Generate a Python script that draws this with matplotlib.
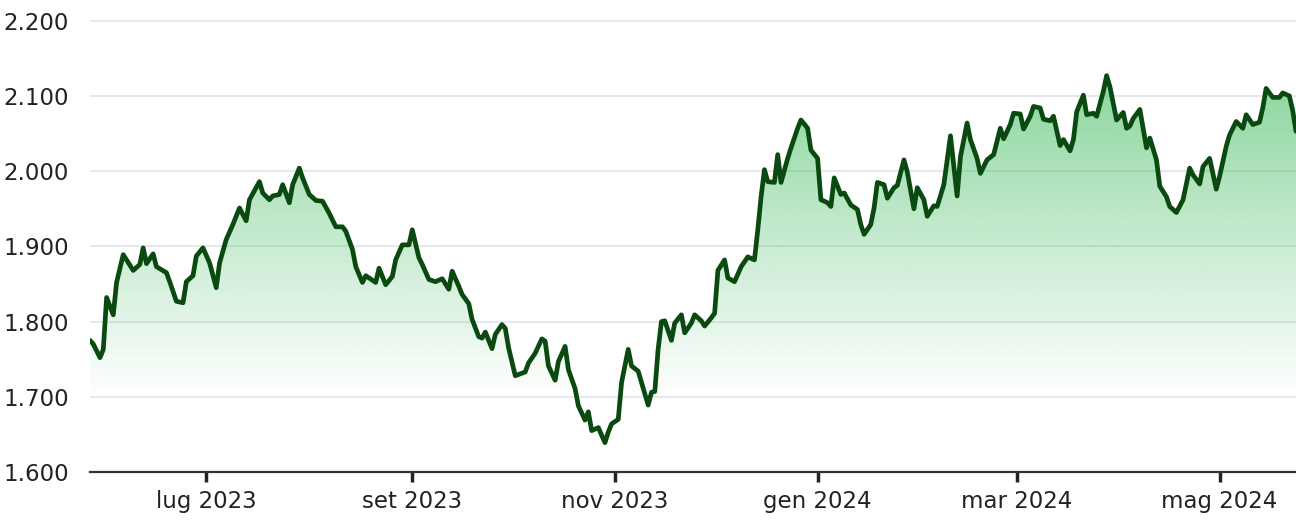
import matplotlib
matplotlib.use("Agg")
import matplotlib.pyplot as plt
import matplotlib.dates as mdates
from matplotlib.ticker import FuncFormatter
import numpy as np
import pandas as pd

# values
dates = [
    "2023-05-27", "2023-05-28", "2023-05-30", "2023-05-31", "2023-06-01", "2023-06-03",
    "2023-06-04", "2023-06-06", "2023-06-07", "2023-06-09", "2023-06-11", "2023-06-12",
    "2023-06-13", "2023-06-15", "2023-06-16", "2023-06-19", "2023-06-20", "2023-06-22",
    "2023-06-24", "2023-06-25", "2023-06-27", "2023-06-28", "2023-06-30", "2023-07-02",
    "2023-07-04", "2023-07-05", "2023-07-07", "2023-07-09", "2023-07-11", "2023-07-13",
    "2023-07-14", "2023-07-17", "2023-07-18", "2023-07-20", "2023-07-21", "2023-07-23",
    "2023-07-24", "2023-07-26", "2023-07-27", "2023-07-29", "2023-07-30", "2023-08-01",
    "2023-08-03", "2023-08-05", "2023-08-07", "2023-08-09", "2023-08-11", "2023-08-12",
    "2023-08-14", "2023-08-15", "2023-08-17", "2023-08-18", "2023-08-21", "2023-08-22",
    "2023-08-24", "2023-08-26", "2023-08-27", "2023-08-29", "2023-08-31", "2023-09-01",
    "2023-09-03", "2023-09-04", "2023-09-06", "2023-09-08", "2023-09-10", "2023-09-12",
    "2023-09-13", "2023-09-15", "2023-09-16", "2023-09-18", "2023-09-19", "2023-09-21",
    "2023-09-22", "2023-09-23", "2023-09-25", "2023-09-26", "2023-09-28", "2023-09-29",
    "2023-09-30", "2023-10-02", "2023-10-05", "2023-10-06", "2023-10-08", "2023-10-10",
    "2023-10-11", "2023-10-12", "2023-10-14", "2023-10-15", "2023-10-17", "2023-10-18",
    "2023-10-20", "2023-10-21", "2023-10-23", "2023-10-24", "2023-10-25", "2023-10-27",
    "2023-10-29", "2023-10-30", "2023-10-31", "2023-11-02", "2023-11-03", "2023-11-05",
    "2023-11-06", "2023-11-08", "2023-11-09", "2023-11-11", "2023-11-12", "2023-11-13",
    "2023-11-14", "2023-11-15", "2023-11-16", "2023-11-18", "2023-11-19", "2023-11-21",
    "2023-11-22", "2023-11-24", "2023-11-25", "2023-11-27", "2023-11-28", "2023-11-30",
    "2023-12-01", "2023-12-02", "2023-12-04", "2023-12-05", "2023-12-07", "2023-12-09",
    "2023-12-11", "2023-12-13", "2023-12-14", "2023-12-15", "2023-12-16", "2023-12-17",
    "2023-12-19", "2023-12-20", "2023-12-21", "2023-12-23", "2023-12-24", "2023-12-26",
    "2023-12-27", "2023-12-29", "2023-12-30", "2024-01-01", "2024-01-02", "2024-01-04",
    "2024-01-05", "2024-01-06", "2024-01-08", "2024-01-09", "2024-01-11", "2024-01-13",
    "2024-01-14", "2024-01-15", "2024-01-17", "2024-01-18", "2024-01-19", "2024-01-21",
    "2024-01-22", "2024-01-24", "2024-01-25", "2024-01-27", "2024-01-28", "2024-01-30",
    "2024-01-31", "2024-02-02", "2024-02-03", "2024-02-05", "2024-02-06", "2024-02-08",
    "2024-02-09", "2024-02-10", "2024-02-12", "2024-02-13", "2024-02-15", "2024-02-16",
    "2024-02-18", "2024-02-19", "2024-02-21", "2024-02-23", "2024-02-25", "2024-02-26",
    "2024-02-28", "2024-02-29", "2024-03-02", "2024-03-03", "2024-03-05", "2024-03-06",
    "2024-03-08", "2024-03-09", "2024-03-11", "2024-03-12", "2024-03-14", "2024-03-15",
    "2024-03-17", "2024-03-18", "2024-03-19", "2024-03-21", "2024-03-22", "2024-03-24",
    "2024-03-25", "2024-03-27", "2024-03-28", "2024-03-29", "2024-03-31", "2024-04-02",
    "2024-04-03", "2024-04-04", "2024-04-05", "2024-04-07", "2024-04-09", "2024-04-10",
    "2024-04-12", "2024-04-13", "2024-04-15", "2024-04-16", "2024-04-18", "2024-04-20",
    "2024-04-22", "2024-04-23", "2024-04-25", "2024-04-26", "2024-04-28", "2024-04-30",
    "2024-05-01", "2024-05-03", "2024-05-04", "2024-05-06", "2024-05-08", "2024-05-09",
    "2024-05-11", "2024-05-13", "2024-05-14", "2024-05-15", "2024-05-17", "2024-05-19",
    "2024-05-20", "2024-05-22", "2024-05-23", "2024-05-24",
]
values = [
    1775, 1770, 1752, 1763, 1832, 1809,
    1852, 1889, 1882, 1868, 1876, 1898,
    1877, 1890, 1873, 1865, 1853, 1827,
    1825, 1853, 1861, 1887, 1898, 1878,
    1845, 1878, 1909, 1929, 1951, 1934,
    1962, 1986, 1971, 1962, 1967, 1969,
    1982, 1958, 1982, 2004, 1991, 1969,
    1961, 1960, 1944, 1926, 1926, 1920,
    1896, 1873, 1852, 1861, 1852, 1871,
    1849, 1860, 1882, 1902, 1902, 1922,
    1885, 1876, 1856, 1853, 1857, 1843,
    1867, 1847, 1836, 1824, 1803, 1780,
    1778, 1786, 1764, 1783, 1796, 1791,
    1765, 1728, 1733, 1745, 1758, 1777,
    1774, 1741, 1722, 1747, 1767, 1736,
    1711, 1688, 1669, 1680, 1655, 1659,
    1639, 1653, 1664, 1670, 1719, 1763,
    1741, 1734, 1719, 1689, 1706, 1707,
    1763, 1800, 1801, 1775, 1798, 1809,
    1785, 1798, 1809, 1801, 1794, 1805,
    1811, 1868, 1882, 1858, 1853, 1873,
    1886, 1882, 1922, 1966, 2002, 1986,
    1985, 2022, 1985, 2017, 2031, 2057,
    2068, 2057, 2028, 2017, 1962, 1958,
    1953, 1991, 1969, 1971, 1955, 1949,
    1929, 1916, 1929, 1951, 1985, 1982,
    1964, 1978, 1981, 2015, 1999, 1950,
    1978, 1962, 1940, 1954, 1953, 1982,
    2015, 2047, 1967, 2019, 2064, 2042,
    2017, 1997, 2015, 2022, 2057, 2043,
    2062, 2077, 2076, 2056, 2073, 2086,
    2084, 2069, 2067, 2073, 2034, 2042,
    2027, 2042, 2079, 2101, 2075, 2077,
    2073, 2106, 2127, 2112, 2068, 2078,
    2057, 2060, 2070, 2082, 2031, 2044,
    2015, 1980, 1966, 1953, 1945, 1962,
    2004, 1995, 1983, 2006, 2017, 1976,
    1993, 2033, 2048, 2066, 2057, 2075,
    2062, 2065, 2084, 2110, 2098, 2098,
    2104, 2100, 2081, 2053,
]
y_ticks = [1600, 1700, 1800, 1900, 2000, 2100, 2200]
month_names = {1: "gen", 3: "mar", 5: "mag", 7: "lug", 9: "set", 11: "nov"}

x = pd.to_datetime(dates)
y = np.array(values)

line_color = "#0a4a10"
grid_color = "#e8e8ec"
text_color = "#222222"

fig = plt.figure(figsize=(12.96, 5.21), dpi=100)
ax = fig.add_axes([90 / 1296, 49 / 521, 1 - 90 / 1296, (521 - 13.2) / 521 - 49 / 521])

ax.set_xlim(x[0], x[-1])
ax.set_ylim(1600, 2210)

# gradient under the line, fading to white around 1.700
fill = ax.fill_between(x, y, 1600, color="none", linewidth=0)
grad = np.zeros((256, 1, 4))
grad[:, 0, 0] = 60 / 255
grad[:, 0, 1] = 186 / 255
grad[:, 0, 2] = 92 / 255
grad[:, 0, 3] = np.linspace(0.6, 0.0, 256)
x0, x1 = mdates.date2num(x[0]), mdates.date2num(x[-1])
img = ax.imshow(grad, aspect="auto", extent=[x0, x1, 1700, 2130],
                origin="upper", zorder=1, interpolation="bilinear")
img.set_clip_path(fill.get_paths()[0], transform=ax.transData)
ax.set_xlim(x[0], x[-1])
ax.set_ylim(1600, 2210)

ax.plot(x, y, color=line_color, linewidth=3.4, solid_joinstyle="round",
        solid_capstyle="round", zorder=3)

ax.set_yticks(y_ticks)
ax.yaxis.set_major_formatter(FuncFormatter(lambda v, p: f"{int(v):,}".replace(",", ".")))
ax.grid(axis="y", color=grid_color, linewidth=1.5, zorder=0)
ax.set_axisbelow(True)

ax.xaxis.set_major_locator(mdates.MonthLocator(bymonth=[1, 3, 5, 7, 9, 11]))
ax.xaxis.set_major_formatter(FuncFormatter(
    lambda v, p: f"{month_names[mdates.num2date(v).month]} {mdates.num2date(v).year}"))

for s in ["top", "right", "left"]:
    ax.spines[s].set_visible(False)
ax.spines["bottom"].set_color("#333333")
ax.spines["bottom"].set_linewidth(1.6)
ax.spines["bottom"].set_zorder(4)

ax.tick_params(axis="y", length=0, pad=15, labelsize=16.5, labelcolor=text_color)
ax.tick_params(axis="x", length=7, width=2.5, color="#222222", pad=6,
               labelsize=16.5, labelcolor=text_color)

fig.savefig("out.png", dpi=100, facecolor="white")
